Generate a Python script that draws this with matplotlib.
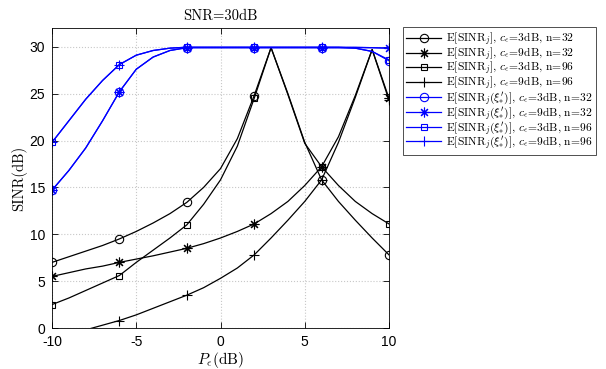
import matplotlib
matplotlib.use("Agg")
import matplotlib.pyplot as plt

plt.rcParams['mathtext.fontset'] = 'cm'
plt.rcParams['font.family'] = ['Liberation Sans', 'DejaVu Sans']
plt.rcParams['axes.unicode_minus'] = False

# P_e (dB), 1 dB steps
pe = [-10, -9, -8, -7, -6, -5, -4, -3, -2, -1, 0, 1, 2, 3, 4, 5, 6, 7, 8, 9, 10]

# E[SINR_j] (dB)
sinr_c3_n32 = [7.0, 7.6, 8.2, 8.8, 9.5, 10.3, 11.2, 12.2, 13.4, 15.0, 17.0, 20.2, 24.8,
               29.9, 25.0, 19.8, 15.8, 13.5, 11.5, 9.6, 7.8]
sinr_c9_n32 = [5.5, 5.9, 6.3, 6.6, 7.0, 7.35, 7.7, 8.1, 8.5, 9.0, 9.6, 10.3, 11.1,
               12.2, 13.5, 15.2, 17.2, 20.4, 24.8, 29.7, 24.5]
sinr_c3_n96 = [2.5, 3.2, 4.0, 4.8, 5.6, 7.0, 8.3, 9.6, 11.0, 13.2, 15.8, 19.4, 24.5,
               29.9, 24.9, 19.7, 17.2, 15.2, 13.5, 12.2, 11.1]
sinr_c9_n96 = [-1.4, -0.9, -0.2, 0.3, 0.8, 1.4, 2.1, 2.8, 3.5, 4.3, 5.3, 6.4, 7.8,
               9.6, 11.5, 13.5, 15.8, 19.8, 24.6, 29.7, 24.3]

# E[SINR_j(xi'_*)] (dB)
opt_c3_n32 = [14.7, 16.8, 19.2, 22.1, 25.2, 27.6, 28.9, 29.6, 29.9, 29.9, 29.9, 29.9, 29.9,
              29.9, 29.9, 29.9, 29.9, 29.9, 29.85, 29.5, 28.5]
opt_c9_n32 = [14.7, 16.8, 19.2, 22.1, 25.2, 27.6, 28.9, 29.6, 29.9, 29.9, 29.9, 29.9, 29.9,
              29.9, 29.9, 29.9, 29.9, 29.9, 29.9, 29.9, 29.85]
opt_c3_n96 = [19.8, 22.1, 24.4, 26.4, 28.1, 29.1, 29.6, 29.85, 29.95, 29.95, 29.95, 29.95, 29.95,
              29.95, 29.95, 29.95, 29.95, 29.95, 29.85, 29.5, 28.6]
opt_c9_n96 = [19.8, 22.1, 24.4, 26.4, 28.1, 29.1, 29.6, 29.85, 29.95, 29.95, 29.95, 29.95, 29.95,
              29.95, 29.95, 29.95, 29.95, 29.95, 29.95, 29.9, 29.85]

asterisk = (8, 2, 0)


def label(opt, c, n):
    # whole label in mathtext so that the glyphs are Computer Modern
    arg = r"(\xi^{\prime}_{*})" if opt else ""
    return (r"$\mathrm{E[SINR}_j" + arg + r"\mathrm{]},\,c_\epsilon\!=\!\mathrm{" + c
            + r"dB},\,\mathrm{n}\!=\!\mathrm{" + n + "}$")


fig = plt.figure(figsize=(6.06, 3.69), dpi=100)
ax = fig.add_axes([52 / 606, 41 / 369, 337 / 606, 300 / 369])

series = [
    (sinr_c3_n32, 'k', 'o', label(False, "3", "32")),
    (sinr_c9_n32, 'k', asterisk, label(False, "9", "32")),
    (sinr_c3_n96, 'k', 's', label(False, "3", "96")),
    (sinr_c9_n96, 'k', '+', label(False, "9", "96")),
    (opt_c3_n32, 'b', 'o', label(True, "3", "32")),
    (opt_c9_n32, 'b', asterisk, label(True, "9", "32")),
    (opt_c3_n96, 'b', 's', label(True, "3", "96")),
    (opt_c9_n96, 'b', '+', label(True, "9", "96")),
]
for vals, col, mk, lab in series:
    if mk == 'o':
        ms = 6
    elif mk == 's':
        ms = 5
    else:
        ms = 7
    ax.plot(pe, vals, color=col, marker=mk, label=lab, lw=0.9, markevery=4,
            markersize=ms, mfc='none', mew=0.8)

ax.set_xlim(-10, 10)
ax.set_ylim(0, 32)
ax.set_xticks([-10, -5, 0, 5, 10])
ax.set_yticks([0, 5, 10, 15, 20, 25, 30])
ax.grid(True, linestyle=':', color='#c8c8c8', lw=0.8)
ax.tick_params(direction='in', top=True, right=True, labelsize=10, length=4,
               width=0.6, pad=5)
for s in ax.spines.values():
    s.set_linewidth(0.6)

serif = dict(family='cmr10')
ax.set_title("SNR=30dB", fontsize=10.5, fontdict=serif, pad=6)
ax.set_ylabel("SINR(dB)", fontsize=10.5, fontdict=serif, labelpad=2)
ax.set_xlabel(r"$P_\epsilon$(dB)", fontsize=11, fontdict=serif, labelpad=1)

leg = fig.legend(loc='upper left', bbox_to_anchor=(403 / 606, 1 - 27 / 369),
                 prop={'family': 'DejaVu Serif', 'size': 8.3}, frameon=True,
                 fancybox=False, edgecolor='k', handlelength=3.0, handletextpad=0.4,
                 borderpad=0.3, labelspacing=-0.26, borderaxespad=0)
leg.get_frame().set_linewidth(0.6)

fig.savefig("out.png", dpi=100)
